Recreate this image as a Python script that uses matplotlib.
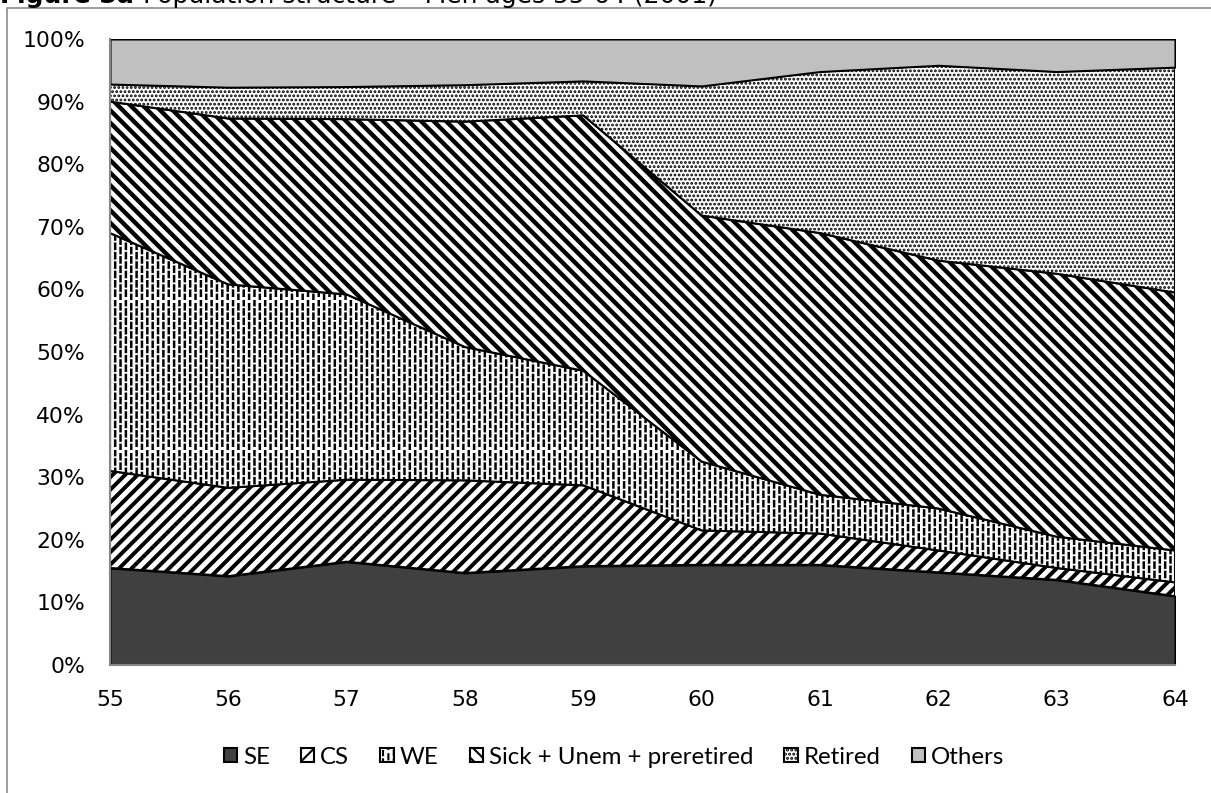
import matplotlib
matplotlib.use('Agg')
import numpy as np
import matplotlib.pyplot as plt
import matplotlib.hatch as mhatch
from matplotlib.patches import Rectangle
from matplotlib.path import Path

#%% Data (shares of men, in %)
ages = [55, 56, 57, 58, 59, 60, 61, 62, 63, 64]
se = [15.5, 14.2, 16.5, 14.7, 15.8, 16.0, 16.0, 14.8, 13.6, 11.0]
cs = [15.5, 14.1, 13.1, 14.8, 12.9, 5.5, 5.0, 3.5, 1.9, 2.2]
we = [38.0, 32.5, 29.6, 21.3, 18.3, 11.0, 6.2, 6.7, 5.0, 5.1]
sick = [21.0, 26.5, 28.0, 36.0, 40.8, 39.3, 41.8, 39.6, 42.0, 41.2]
retired = [2.8, 5.0, 5.2, 5.9, 5.5, 20.7, 25.8, 31.2, 32.3, 36.0]
others = [7.2, 7.7, 7.6, 7.3, 6.7, 7.5, 5.2, 4.2, 5.2, 4.5]
labels = ['SE', 'CS', 'WE', 'Sick + Unem + preretired', 'Retired', 'Others']
yticks = [0, 10, 20, 30, 40, 50, 60, 70, 80, 90, 100]


#%% custom hatch: short vertical dashes (reuses the 'O' code)
class VDashes(mhatch.HatchPatternBase):
    def __init__(self, hatch, density):
        n = hatch.count('O')
        self.num_cols = n * density * 14 // 3
        self.num_rows = n * density * 8 // 3
        self.num_vertices = self.num_cols * self.num_rows * 2

    def set_vertices_and_codes(self, vertices, codes):
        k = 0
        for c in range(self.num_cols):
            x = (c + 0.5) / self.num_cols
            off = 0.45 * (c % 2)
            for r in range(self.num_rows):
                y0 = (r + off) / self.num_rows
                vertices[k] = (x, y0)
                vertices[k + 1] = (x, y0 + 0.55 / self.num_rows)
                codes[k] = Path.MOVETO
                codes[k + 1] = Path.LINETO
                k += 2


mhatch._hatch_types = [VDashes if t is mhatch.LargeCircles else t
                       for t in mhatch._hatch_types]

#%% Plot
dpi = 150
fig = plt.figure(figsize=(1211 / dpi, 793 / dpi), dpi=dpi)
ax = fig.add_axes([110 / 1211, 1 - 665 / 793, 1065 / 1211, 626 / 793])

plt.rcParams['font.family'] = ['Lato', 'DejaVu Sans']

series = [se, cs, we, sick, retired, others]
faces = ['#404040', 'white', 'white', 'white', 'white', '#c0c0c0']
hatches = [None, '////', 'O', '\\\\\\\\', '......', None]
hatch_lw = [1.0, 1.9, 1.2, 2.1, 0.9, 1.0]

bottom = np.zeros(len(ages))
for vals, fc, h, hlw, lab in zip(series, faces, hatches, hatch_lw, labels):
    top = bottom + np.array(vals)
    with plt.rc_context({'hatch.linewidth': hlw}):
        poly = ax.fill_between(ages, bottom, top, facecolor=fc, edgecolor='black',
                               hatch=h, linewidth=1.0, label=lab)
    if hasattr(poly, 'set_hatch_linewidth'):
        poly.set_hatch_linewidth(hlw)
    bottom = top

ax.set_xlim(55, 64)
ax.set_ylim(0, 100)
ax.set_xticks(ages)
ax.set_yticks(yticks)
ax.set_yticklabels([f'{v}%' for v in yticks])
ax.tick_params(axis='both', length=0, labelsize=10.5)
ax.tick_params(axis='y', pad=12)
ax.tick_params(axis='x', pad=12)
for s in ['top', 'right']:
    ax.spines[s].set_visible(False)
for s in ['left', 'bottom']:
    ax.spines[s].set_color('#868686')
    ax.spines[s].set_linewidth(1.0)

fig.legend(loc='center', bbox_to_anchor=(614 / 1211, 1 - 757 / 793), ncol=6,
           frameon=False, fontsize=11.5, handlelength=0.55, handleheight=0.55,
           handletextpad=0.25, columnspacing=1.3)

# outer chart frame and title (only its lower edge shows, as in the source)
fig.patches.append(Rectangle((7 / 1211, -0.1), 1.2, 1.1 - 8 / 793, transform=fig.transFigure,
                             fill=False, edgecolor='#8c8c8c', linewidth=0.8))
t1 = fig.text(0, 1 - 3 / 793, 'Figure 3a', fontsize=12, fontweight='bold',
              va='baseline', family='DejaVu Sans')
fig.canvas.draw()
x_end = t1.get_window_extent().x1 / fig.bbox.width
fig.text(x_end + 9 / 1211, 1 - 3 / 793, 'Population structure \u2013 Men ages 55-64 (2001)',
         fontsize=12, va='baseline', family='DejaVu Sans')

fig.savefig('out.png', dpi=dpi)
